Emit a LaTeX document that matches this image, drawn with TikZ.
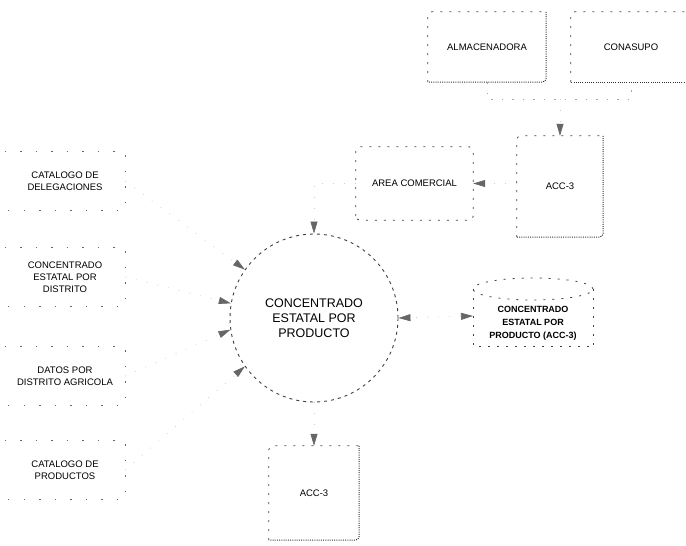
\documentclass[tikz,border=0pt]{standalone}
\usepackage{fontspec}
\setmainfont{Liberation Sans}
\usetikzlibrary{arrows.meta}
\begin{document}
\begin{tikzpicture}[x=1pt,y=-1pt,
  lbl/.style={font=\fontsize{9.5}{12}\selectfont, align=center, text=black, inner sep=0pt},
  big/.style={font=\fontsize{12.5}{15}\selectfont, align=center, text=black, inner sep=0pt},
  sparse/.style={draw=black!75, line width=0.8pt, dash pattern=on 2pt off 7pt},
  faint/.style={draw=black!60, line width=0.8pt, dash pattern=on 1.5pt off 14pt},
  dense/.style={draw=black!80, line width=1pt, dash pattern=on 1pt off 1.2pt},
  mid/.style={draw=black!75, line width=0.9pt, dash pattern=on 3pt off 4pt},
  conn/.style={draw=black!20, line width=0.6pt, dash pattern=on 1pt off 10pt,
    -{Triangle[length=12pt,width=7pt,color=black!60]}},
  conn2/.style={draw=black!20, line width=0.6pt, dash pattern=on 1pt off 10pt,
    {Triangle[length=12pt,width=7pt,color=black!60]}-{Triangle[length=12pt,width=7pt,color=black!60]}},
  lconn/.style={draw=black!35, line width=0.7pt, dash pattern=on 1.5pt off 9pt}
]
\useasboundingbox (0,0) rectangle (686,546);

% external entities top right
\node[lbl, minimum width=118pt, minimum height=70pt] (alm) at (487,47) {ALMACENADORA};
\node[lbl, minimum width=120pt, minimum height=70pt] (cona) at (631,47) {CONASUPO};
\draw[sparse, rounded corners=4pt] (alm.south west) -- (alm.north west) -- (alm.north east);
\draw[dense, rounded corners=4pt] (alm.north east) -- (alm.south east) -- (alm.south west);
\draw[sparse, rounded corners=4pt] (cona.south west) -- (cona.north west) -- (cona.north east);
\draw[dense, rounded corners=4pt] (cona.south east) -- (cona.south west);

% ACC-3 top
\node[lbl, minimum width=86pt, minimum height=101pt] (acctop) at (560,186.5) {ACC-3};
\draw[sparse, rounded corners=4pt] (acctop.south west) -- (acctop.north west) -- (acctop.north east);
\draw[dense, rounded corners=4pt] (acctop.north east) -- (acctop.south east) -- (acctop.south west);

% AREA COMERCIAL
\node[lbl, minimum width=117pt, minimum height=73pt] (area) at (414.5,183.5) {AREA COMERCIAL};
\draw[sparse, rounded corners=4pt] (area.south west) -- (area.north west) -- (area.north east) -- (area.south east) -- cycle;

% process
\node[big, circle, minimum size=168pt, mid] (circ) at (314,318) {CONCENTRADO\\ESTATAL POR\\PRODUCTO};

% ACC-3 bottom
\node[lbl, minimum width=90pt, minimum height=94pt] (accbot) at (314,493) {ACC-3};
\draw[sparse, rounded corners=4pt] (accbot.south west) -- (accbot.north west) -- (accbot.north east);
\draw[dense, rounded corners=4pt] (accbot.north east) -- (accbot.south east) -- (accbot.south west);

% store right
\node[lbl, font=\fontsize{9}{13}\selectfont\bfseries] (acc) at (533,323) {CONCENTRADO\\ESTATAL POR\\PRODUCTO (ACC-3)};
\draw[sparse] (533,289) ellipse[x radius=60pt, y radius=11pt];
\draw[sparse] (473,289) -- (473,346) -- (593,346);
\draw[sparse] (593,289) -- (593,346);
\coordinate (accw) at (473,316);

% left stores
\node[lbl, minimum width=120pt, minimum height=58pt] (del) at (65,181) {CATALOGO DE\\DELEGACIONES};
\node[lbl, minimum width=120pt, minimum height=58pt] (dis) at (65,277) {CONCENTRADO\\ESTATAL POR\\DISTRITO};
\node[lbl, minimum width=120pt, minimum height=58pt] (dat) at (65,376) {DATOS POR\\DISTRITO AGRICOLA};
\node[lbl, minimum width=120pt, minimum height=58pt] (pro) at (65,470) {CATALOGO DE\\PRODUCTOS};
\foreach \s in {del,dis,dat,pro}{
  \draw[faint] (\s.north west) -- (\s.north east) -- (\s.south east) -- (\s.south west);
}

% connectors
\coordinate (bus) at (560,99);
\draw[lconn] (alm.south) |- (bus) -| (cona.south);
\draw[conn] (bus) -- (acctop.north);
\draw[conn] (acctop.west |- area.east) -- (area.east);
\draw[conn] (area.west) -| (circ.north);
\draw[conn] (circ.south) -- (accbot.north);
\draw[conn2] (accw) -- (circ.east);
\draw[conn] (del.east) -- (circ.145);
\draw[conn] (dis.east) -- (circ.170);
\draw[conn] (dat.east) -- (circ.188);
\draw[conn] (pro.east) -- (circ.215);
\end{tikzpicture}
\end{document}
